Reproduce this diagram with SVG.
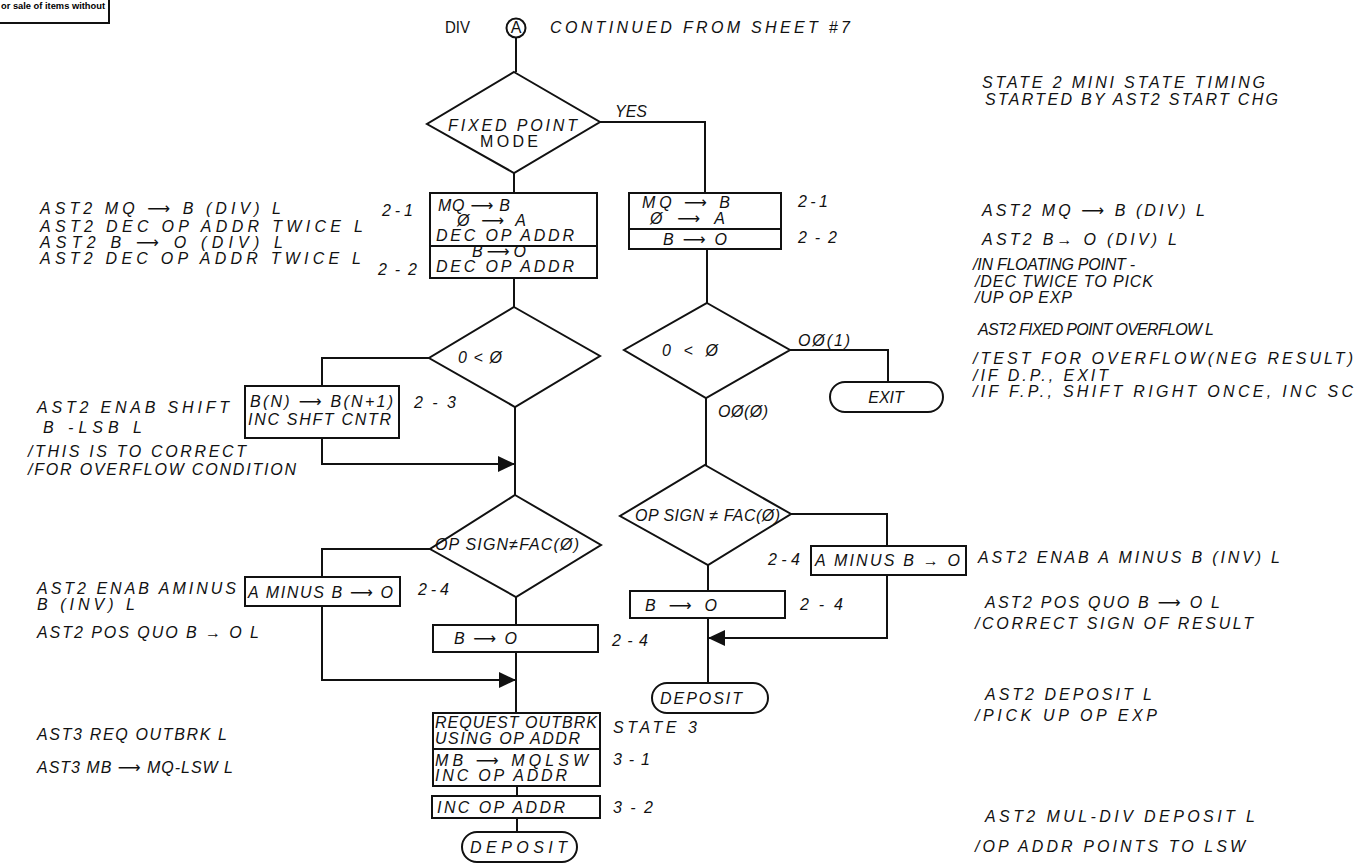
<svg xmlns="http://www.w3.org/2000/svg" width="1356" height="866" viewBox="0 0 1356 866">
<defs>
<style>
.ln{stroke:#111;stroke-width:2;fill:none}
.bx{fill:#fff;stroke:#111;stroke-width:2}
.t{font-family:"Liberation Sans","DejaVu Sans",sans-serif;font-style:italic;font-size:16px;fill:#111}
.u{font-family:"Liberation Sans","DejaVu Sans",sans-serif;font-size:16px;fill:#111}
</style>
<marker id="ah" markerUnits="userSpaceOnUse" markerWidth="18" markerHeight="16" refX="17" refY="8" orient="auto">
<path d="M0,0 L17,8 L0,16 z" fill="#111"/>
</marker>
</defs>
<rect width="1356" height="866" fill="#fff"/>

<g id="corner">
<path class="ln" d="M0,23 H109 V0"/>
<text x="1" y="9" font-family="Liberation Sans, sans-serif" font-weight="bold" font-size="9" textLength="104" lengthAdjust="spacingAndGlyphs">or sale of items without</text>
</g>

<g id="connectors">
<path class="ln" d="M516,38 V72"/>
<path class="ln" d="M514,173 V193"/>
<path class="ln" d="M600,122 H705 V193"/>
<path class="ln" d="M514,278 V307"/>
<path class="ln" d="M707,249 V303"/>
<path class="ln" d="M429,358 H322 V386"/>
<path class="ln" d="M322,438 V464 H515" marker-end="url(#ah)"/>
<path class="ln" d="M515,407 V495"/>
<path class="ln" d="M790,350 H888 V382"/>
<path class="ln" d="M706,398 V465"/>
<path class="ln" d="M430,549 H322 V577"/>
<path class="ln" d="M322,606 V680 H516" marker-end="url(#ah)"/>
<path class="ln" d="M516,597 V625"/>
<path class="ln" d="M516,652 V713"/>
<path class="ln" d="M791,514 H887 V546"/>
<path class="ln" d="M887,575 V638 H708" marker-end="url(#ah)"/>
<path class="ln" d="M708,565 V591"/>
<path class="ln" d="M708,618 V683"/>
<path class="ln" d="M517,786 V796"/>
<path class="ln" d="M517,818 V832"/>
</g>

<g id="start">
<text class="u" x="445" y="33" textLength="25" lengthAdjust="spacingAndGlyphs">DIV</text>
<circle cx="516" cy="28" r="9.5" class="bx"/>
<text class="u" x="516" y="33" font-size="13" text-anchor="middle">A</text>
<text class="t" x="550" y="33" textLength="300" lengthAdjust="spacing">CONTINUED FROM SHEET #7</text>
</g>

<g id="d-fixed">
<polygon class="bx" points="514,72 600,122 514,173 427,124"/>
<text class="t" x="448" y="131" textLength="129" lengthAdjust="spacing">FIXED POINT</text>
<text class="u" x="480" y="147" textLength="58" lengthAdjust="spacing">MODE</text>
<text class="t" x="615" y="117" font-size="13" textLength="32" lengthAdjust="spacing">YES</text>
</g>

<g id="box-left-21">
<rect class="bx" x="430" y="193" width="167" height="85"/>
<path class="ln" d="M430,246 H597"/>
<text class="t" x="438" y="211" font-size="13" textLength="72" lengthAdjust="spacing">MQ ⟶ B</text>
<text class="t" x="457" y="226" font-size="13" textLength="69" lengthAdjust="spacing">Ø ⟶ A</text>
<text class="t" x="436" y="241" font-size="13" textLength="138" lengthAdjust="spacing">DEC OP ADDR</text>
<text class="t" x="472" y="257" font-size="11" textLength="54" lengthAdjust="spacing">B ⟶ O</text>
<text class="t" x="436" y="272" font-size="13" textLength="138" lengthAdjust="spacing">DEC OP ADDR</text>
<text class="t" x="382" y="216" textLength="31" lengthAdjust="spacing">2-1</text>
<text class="t" x="378" y="275" textLength="39" lengthAdjust="spacing">2-2</text>
</g>

<g id="box-right-21">
<rect class="bx" x="629" y="193" width="152" height="56"/>
<path class="ln" d="M629,229 H781"/>
<text class="t" x="642" y="208" font-size="13" textLength="88" lengthAdjust="spacing">MQ ⟶ B</text>
<text class="t" x="650" y="224" font-size="13" textLength="75" lengthAdjust="spacing">Ø ⟶ A</text>
<text class="t" x="663" y="245" font-size="14" textLength="64" lengthAdjust="spacing">B ⟶ O</text>
<text class="t" x="798" y="207" textLength="30" lengthAdjust="spacing">2-1</text>
<text class="t" x="798" y="243" textLength="39" lengthAdjust="spacing">2-2</text>
</g>

<g id="d-left-ovf">
<polygon class="bx" points="514,307 600,356 515,407 429,358"/>
<text class="t" x="458" y="363" textLength="44" lengthAdjust="spacing">0 &lt; Ø</text>
</g>

<g id="d-right-ovf">
<polygon class="bx" points="707,303 790,350 706,398 624,350"/>
<text class="t" x="662" y="356" textLength="56" lengthAdjust="spacing">0 &lt; Ø</text>
<text class="t" x="798" y="346" textLength="52" lengthAdjust="spacing">OØ(1)</text>
<text class="t" x="718" y="417" textLength="50" lengthAdjust="spacing">OØ(Ø)</text>
</g>

<g id="exit">
<rect class="bx" x="830" y="382" width="113" height="30" rx="15"/>
<text class="t" x="886" y="403" text-anchor="middle">EXIT</text>
</g>

<g id="box-shift">
<rect class="bx" x="245" y="386" width="154" height="52"/>
<text class="t" x="250" y="407" font-size="14" textLength="143" lengthAdjust="spacing">B(N) ⟶ B(N+1)</text>
<text class="t" x="248" y="425" font-size="14" textLength="143" lengthAdjust="spacing">INC SHFT CNTR</text>
<text class="t" x="414" y="408" textLength="42" lengthAdjust="spacing">2-3</text>
</g>

<g id="d-left-sign">
<polygon class="bx" points="515,495 601,545 516,597 430,549"/>
<text class="t" x="435" y="550" font-size="13" textLength="144" lengthAdjust="spacing">OP SIGN≠FAC(Ø)</text>
</g>

<g id="d-right-sign">
<polygon class="bx" points="705,465 791,514 708,565 620,516"/>
<text class="t" x="635" y="521" font-size="15" textLength="145" lengthAdjust="spacing">OP SIGN ≠ FAC(Ø)</text>
</g>

<g id="box-left-aminus">
<rect class="bx" x="245" y="577" width="155" height="29"/>
<text class="t" x="248" y="598" font-size="15" textLength="145" lengthAdjust="spacing">A MINUS B ⟶ O</text>
<text class="t" x="418" y="595" textLength="31" lengthAdjust="spacing">2-4</text>
</g>

<g id="box-left-bo">
<rect class="bx" x="433" y="625" width="165" height="27"/>
<text class="t" x="454" y="644" textLength="63" lengthAdjust="spacing">B ⟶ O</text>
<text class="t" x="612" y="646" textLength="36" lengthAdjust="spacing">2-4</text>
</g>

<g id="box-right-aminus">
<rect class="bx" x="811" y="546" width="155" height="29"/>
<text class="t" x="815" y="566" font-size="15" textLength="145" lengthAdjust="spacing">A MINUS B → O</text>
<text class="t" x="768" y="565" textLength="32" lengthAdjust="spacing">2-4</text>
</g>

<g id="box-right-bo">
<rect class="bx" x="630" y="591" width="155" height="27"/>
<text class="t" x="645" y="611" textLength="72" lengthAdjust="spacing">B ⟶ O</text>
<text class="t" x="800" y="610" textLength="43" lengthAdjust="spacing">2-4</text>
</g>

<g id="deposit-right">
<rect class="bx" x="652" y="683" width="116" height="30" rx="15"/>
<text class="t" x="660" y="704" textLength="82" lengthAdjust="spacing">DEPOSIT</text>
</g>

<g id="box-request">
<rect class="bx" x="433" y="713" width="167" height="73"/>
<path class="ln" d="M433,749 H600"/>
<text class="t" x="435" y="728" font-size="14" textLength="162" lengthAdjust="spacing">REQUEST OUTBRK</text>
<text class="t" x="435" y="744" font-size="14" textLength="145" lengthAdjust="spacing">USING OP ADDR</text>
<text class="t" x="435" y="766" font-size="14" textLength="153" lengthAdjust="spacing">MB ⟶ MQLSW</text>
<text class="t" x="435" y="781" font-size="14" textLength="132" lengthAdjust="spacing">INC OP ADDR</text>
<text class="t" x="613" y="733" textLength="84" lengthAdjust="spacing">STATE 3</text>
<text class="t" x="613" y="765" textLength="37" lengthAdjust="spacing">3-1</text>
</g>

<g id="box-inc">
<rect class="bx" x="432" y="796" width="168" height="22"/>
<text class="t" x="437" y="813" font-size="14" textLength="128" lengthAdjust="spacing">INC OP ADDR</text>
<text class="t" x="613" y="813" textLength="40" lengthAdjust="spacing">3-2</text>
</g>

<g id="deposit-bottom">
<rect class="bx" x="462" y="832" width="115" height="30" rx="15"/>
<text class="t" x="470" y="853" textLength="97" lengthAdjust="spacing">DEPOSIT</text>
</g>

<g id="notes-left">
<text class="t" x="40" y="214" textLength="241" lengthAdjust="spacing">AST2 MQ ⟶ B (DIV) L</text>
<text class="t" x="40" y="232" font-size="12" textLength="323" lengthAdjust="spacing">AST2 DEC OP ADDR TWICE L</text>
<text class="t" x="40" y="248" font-size="12" textLength="243" lengthAdjust="spacing">AST2 B ⟶ O (DIV) L</text>
<text class="t" x="40" y="264" font-size="12" textLength="321" lengthAdjust="spacing">AST2 DEC OP ADDR TWICE L</text>
<text class="t" x="37" y="413" textLength="192" lengthAdjust="spacing">AST2 ENAB SHIFT</text>
<text class="t" x="43" y="433" textLength="99" lengthAdjust="spacing">B -LSB L</text>
<text class="t" x="28" y="457" textLength="218" lengthAdjust="spacing">/THIS IS TO CORRECT</text>
<text class="t" x="28" y="475" textLength="268" lengthAdjust="spacing">/FOR OVERFLOW CONDITION</text>
<text class="t" x="37" y="594" font-size="14" textLength="199" lengthAdjust="spacing">AST2 ENAB AMINUS</text>
<text class="t" x="37" y="610" font-size="14" textLength="98" lengthAdjust="spacing">B (INV) L</text>
<text class="t" x="37" y="638" textLength="222" lengthAdjust="spacing">AST2 POS QUO B → O L</text>
<text class="t" x="37" y="740" font-size="15" textLength="190" lengthAdjust="spacing">AST3 REQ OUTBRK L</text>
<text class="t" x="37" y="773" font-size="15" textLength="196" lengthAdjust="spacing">AST3 MB ⟶ MQ-LSW L</text>
</g>

<g id="notes-right">
<text class="t" x="982" y="88" textLength="283" lengthAdjust="spacing">STATE 2 MINI STATE TIMING</text>
<text class="t" x="985" y="105" textLength="293" lengthAdjust="spacing">STARTED BY AST2 START CHG</text>
<text class="t" x="982" y="216" textLength="223" lengthAdjust="spacing">AST2 MQ ⟶ B (DIV) L</text>
<text class="t" x="982" y="245" textLength="195" lengthAdjust="spacing">AST2 B→ O (DIV) L</text>
<text class="t" x="973" y="270" font-size="14" textLength="162" lengthAdjust="spacing">/IN FLOATING POINT -</text>
<text class="t" x="975" y="287" font-size="14" textLength="178" lengthAdjust="spacing">/DEC TWICE TO PICK</text>
<text class="t" x="975" y="303" font-size="14" textLength="97" lengthAdjust="spacing">/UP OP EXP</text>
<text class="t" x="978" y="335" font-size="14" textLength="236" lengthAdjust="spacing">AST2 FIXED POINT OVERFLOW L</text>
<text class="t" x="973" y="364" textLength="380" lengthAdjust="spacing">/TEST FOR OVERFLOW(NEG RESULT)</text>
<text class="t" x="973" y="381" textLength="135" lengthAdjust="spacing">/IF D.P., EXIT</text>
<text class="t" x="973" y="397" textLength="380" lengthAdjust="spacing">/IF F.P., SHIFT RIGHT ONCE, INC SC</text>
<text class="t" x="978" y="563" textLength="302" lengthAdjust="spacing">AST2 ENAB A MINUS B (INV) L</text>
<text class="t" x="985" y="608" textLength="235" lengthAdjust="spacing">AST2 POS QUO B ⟶ O L</text>
<text class="t" x="975" y="629" textLength="278" lengthAdjust="spacing">/CORRECT SIGN OF RESULT</text>
<text class="t" x="985" y="700" textLength="167" lengthAdjust="spacing">AST2 DEPOSIT L</text>
<text class="t" x="975" y="721" textLength="182" lengthAdjust="spacing">/PICK UP OP EXP</text>
<text class="t" x="985" y="822" textLength="270" lengthAdjust="spacing">AST2 MUL-DIV DEPOSIT L</text>
<text class="t" x="975" y="852" textLength="270" lengthAdjust="spacing">/OP ADDR POINTS TO LSW</text>
</g>
</svg>
